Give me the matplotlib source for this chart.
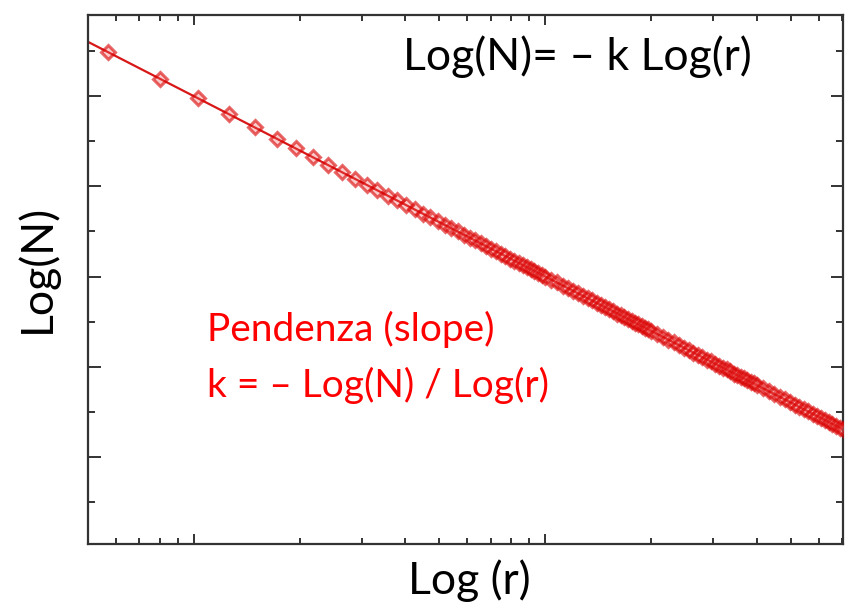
import matplotlib
matplotlib.use('Agg')
import matplotlib.pyplot as plt
from matplotlib.ticker import LogLocator, MultipleLocator, NullFormatter
import numpy as np

# dati (r in scala log, Log(N) lineare)
r = [0.57, 0.80, 1.03, 1.26, 1.49, 1.72, 1.95, 2.18, 2.41, 2.64, 2.87, 3.10,
     3.33, 3.56, 3.79, 4.02, 4.25, 4.48, 4.71, 4.94, 5.17, 5.40, 5.63, 5.86,
     6.09, 6.32, 6.55, 6.78, 7.01, 7.24, 7.47, 7.70, 7.93, 8.16, 8.39, 8.62,
     8.85, 9.08, 9.31, 9.54, 9.77, 10.0,
     10.4, 10.8, 11.2, 11.6, 12.0, 12.4, 12.8, 13.2, 13.6, 14.0, 14.4, 14.8,
     15.2, 15.6, 16.0, 16.4, 16.8, 17.2, 17.6, 18.0, 18.4, 18.8, 19.2, 19.6, 20.0,
     20.8, 21.6, 22.4, 23.2, 24.0, 24.8, 25.6, 26.4, 27.2, 28.0, 28.8, 29.6,
     30.4, 31.2, 32.0, 32.8, 33.6, 34.4, 35.2, 36.0, 36.8, 37.6, 38.4, 39.2, 40.0,
     41.6, 43.2, 44.8, 46.4, 48.0, 49.6, 51.2, 52.8, 54.4, 56.0, 57.6, 59.2,
     60.8, 62.4, 64.0, 65.6, 67.2, 68.8, 70.4]
logN = [8.98, 8.39, 7.95, 7.60, 7.31, 7.06, 6.84, 6.65, 6.47, 6.31, 6.17, 6.03,
        5.91, 5.79, 5.69, 5.58, 5.49, 5.39, 5.31, 5.23, 5.15, 5.07, 5.00, 4.93,
        4.86, 4.80, 4.74, 4.68, 4.62, 4.56, 4.51, 4.45, 4.40, 4.35, 4.30, 4.26,
        4.21, 4.17, 4.12, 4.08, 4.04, 4.00,
        3.93, 3.87, 3.80, 3.74, 3.68, 3.63, 3.57, 3.52, 3.47, 3.42, 3.37, 3.32,
        3.27, 3.23, 3.18, 3.14, 3.10, 3.06, 3.02, 2.98, 2.94, 2.90, 2.87, 2.83, 2.80,
        2.73, 2.66, 2.60, 2.54, 2.48, 2.42, 2.37, 2.31, 2.26, 2.21, 2.16, 2.12,
        2.07, 2.02, 1.98, 1.94, 1.90, 1.85, 1.81, 1.78, 1.74, 1.70, 1.66, 1.63, 1.59,
        1.52, 1.46, 1.40, 1.33, 1.28, 1.22, 1.16, 1.11, 1.06, 1.01, 0.96, 0.91,
        0.87, 0.82, 0.78, 0.73, 0.69, 0.65, 0.61]

xlim = (0.5, 70.3)
ylim = (-1.93, 9.8)

fig = plt.figure(figsize=(8.52, 6.08), dpi=100)
ax = fig.add_axes([88 / 852, 1 - 544 / 608, 755 / 852, 529 / 608])

# retta di fit in scala log-log
k, b = np.polyfit(np.log10(r), logN, 1)
xf = np.array(xlim)
ax.plot(xf, b + k * np.log10(xf), color='#d81818', lw=1.6, zorder=2)
ax.plot(r, logN, ls='none', marker='D', ms=7.5, mew=2.2,
        mfc=(0.95, 0.35, 0.35, 0.3), mec=(0.85, 0.0, 0.0, 0.6), zorder=3)

ax.set_xscale('log')
ax.set_xlim(*xlim)
ax.set_ylim(*ylim)
ax.xaxis.set_major_locator(LogLocator(base=10, numticks=10))
ax.xaxis.set_minor_locator(LogLocator(base=10, subs=np.arange(2, 10), numticks=50))
ax.yaxis.set_major_locator(MultipleLocator(2))
ax.yaxis.set_minor_locator(MultipleLocator(1))
ax.xaxis.set_major_formatter(NullFormatter())
ax.xaxis.set_minor_formatter(NullFormatter())
ax.yaxis.set_major_formatter(NullFormatter())

ax.tick_params(which='both', direction='in', top=True, right=True,
               color='#333333', width=1.4)
ax.tick_params(axis='x', which='major', length=7)
ax.tick_params(axis='x', which='minor', length=4)
ax.tick_params(axis='y', which='major', length=9)
ax.tick_params(axis='y', which='minor', length=5)
for s in ax.spines.values():
    s.set_color('#333333')
    s.set_linewidth(1.6)

font = ['Lato', 'DejaVu Sans']
fig.text(403 / 852, 1 - 70 / 608, 'Log(N)= – k Log(r)', family=font,
         fontsize=32, color='black', ha='left', va='baseline')
fig.text(207 / 852, 1 - 341 / 608, 'Pendenza (slope)', family=font,
         fontsize=28, color='#ff0000', ha='left', va='baseline')
fig.text(207 / 852, 1 - 397 / 608, 'k = – Log(N) / Log(r)', family=font,
         fontsize=28, color='#ff0000', ha='left', va='baseline')
fig.text(469 / 852, 1 - 594 / 608, 'Log (r)', family=font,
         fontsize=32, color='black', ha='center', va='baseline')
fig.text(37 / 852, 1 - 268 / 608, 'Log(N)', family=font, rotation=90,
         fontsize=32, color='black', ha='center', va='center')

fig.savefig('out.png', dpi=100)
